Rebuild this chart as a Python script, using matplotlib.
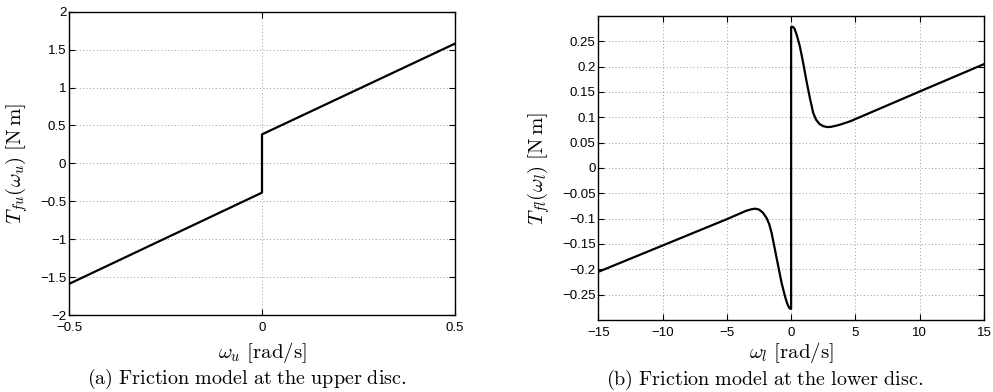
import matplotlib
matplotlib.use('Agg')
import matplotlib.pyplot as plt

plt.rcParams['font.family'] = ['Liberation Sans', 'DejaVu Sans']
plt.rcParams['mathtext.fontset'] = 'cm'

# (a) upper disc friction: Coulomb + viscous
wu = [-0.5, 0.0, 0.0, 0.5]
Tfu = [-1.59, -0.386, 0.382, 1.579]

# (b) lower disc friction: Stribeck-like curve
wl = [-15, -10, -5, -4, -3.5, -3.1, -2.8, -2.5, -2.2, -1.91, -1.7, -1.52,
      -1.26, -1.0, -0.74, -0.48, -0.3, -0.15, -0.05, 0.0,
      0.0, 0.05, 0.16, 0.28, 0.43, 0.68, 0.94, 1.2, 1.46, 1.72, 1.95,
      2.2, 2.5, 2.8, 3.1, 3.5, 3.8, 4.58, 10, 15]
Tfl = [-0.205, -0.153, -0.101, -0.090, -0.0845, -0.0815, -0.0803, -0.0820, -0.0880, -0.0987, -0.111, -0.128,
       -0.161, -0.194, -0.227, -0.253, -0.268, -0.276, -0.278, -0.278,
       0.278, 0.279, 0.278, 0.274, 0.263, 0.240, 0.207, 0.171, 0.138, 0.1085, 0.095,
       0.087, 0.0825, 0.0808, 0.0812, 0.0835, 0.0855, 0.092, 0.151, 0.205]

grid_style = dict(color='#9a9a9a', linestyle=(0, (1, 2.5)), linewidth=0.7)
lab = 15
tick = 9.5

fig = plt.figure(figsize=(9.93, 3.92), dpi=100)
ax1 = fig.add_axes([0.0695, 0.1964, 0.3887, 0.7738])
ax2 = fig.add_axes([0.6025, 0.1837, 0.3884, 0.7755])

ax1.plot(wu, Tfu, color='black', linewidth=1.6)
ax1.set_xlim(-0.5, 0.5)
ax1.set_ylim(-2, 2)
ax1.set_xticks([-0.5, 0, 0.5])
ax1.set_xticklabels(['\u22120.5', '0', '0.5'])
ax1.set_yticks([-2, -1.5, -1, -0.5, 0, 0.5, 1, 1.5, 2])
ax1.set_yticklabels(['\u22122', '\u22121.5', '\u22121', '\u22120.5', '0', '0.5', '1', '1.5', '2'])
ax1.set_xlabel(r'$\omega_u\ [\mathrm{rad/s}]$', fontsize=lab)
ax1.set_ylabel(r'$T_{fu}(\omega_u)\ [\mathrm{N\,m}]$', fontsize=lab)
ax1.xaxis.set_label_coords(0.5, -0.082)
ax1.yaxis.set_label_coords(-0.101, 0.5)

ax2.plot(wl, Tfl, color='black', linewidth=1.6)
ax2.set_xlim(-15, 15)
ax2.set_ylim(-0.3, 0.3)
ax2.set_xticks([-15, -10, -5, 0, 5, 10, 15])
ax2.set_xticklabels(['\u221215', '\u221210', '\u22125', '0', '5', '10', '15'])
yt = [-0.25, -0.2, -0.15, -0.1, -0.05, 0, 0.05, 0.1, 0.15, 0.2, 0.25]
ax2.set_yticks(yt)
ax2.set_yticklabels([('%g' % v).replace('-', '\u2212') for v in yt])
ax2.set_xlabel(r'$\omega_l\ [\mathrm{rad/s}]$', fontsize=lab)
ax2.set_ylabel(r'$T_{fl}(\omega_l)\ [\mathrm{N\,m}]$', fontsize=lab)
ax2.xaxis.set_label_coords(0.5, -0.066)
ax2.yaxis.set_label_coords(-0.12, 0.5)

for ax in (ax1, ax2):
    ax.grid(True, **grid_style)
    ax.tick_params(direction='in', top=True, right=True, length=4, width=0.8, labelsize=tick)
    ax.tick_params(axis='x', pad=5)
    ax.tick_params(axis='y', pad=2)
    for s in ax.spines.values():
        s.set_linewidth(1.0)

fig.text(0.2485, 0.034, r'$\mathrm{(a)\ Friction\ model\ at\ the\ upper\ disc.}$',
         ha='center', va='center', fontsize=14.5)
fig.text(0.7704, 0.032, r'$\mathrm{(b)\ Friction\ model\ at\ the\ lower\ disc.}$',
         ha='center', va='center', fontsize=14.5)

fig.savefig('out.png', dpi=100)
